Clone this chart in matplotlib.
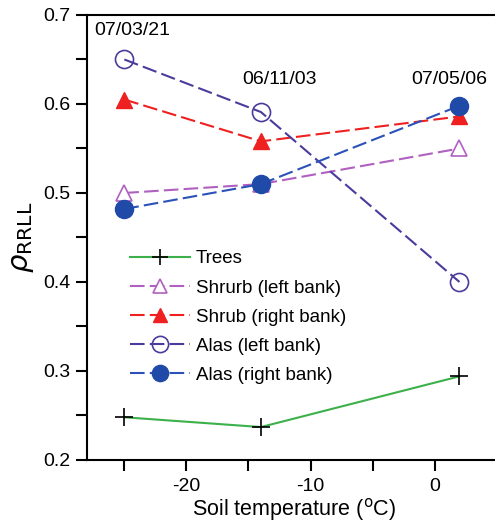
import numpy as np
import matplotlib.pyplot as plt
from matplotlib.ticker import MultipleLocator

plt.rcParams['font.family'] = ['Liberation Sans', 'DejaVu Sans']
plt.rcParams['axes.unicode_minus'] = False

# soil temperature of each survey date
temps = [-25, -14, 2]
dates = ['07/03/21', '06/11/03', '07/05/06']

trees = [0.248, 0.237, 0.294]
shrub_left = [0.500, 0.510, 0.550]
shrub_right = [0.605, 0.558, 0.586]
alas_left = [0.650, 0.591, 0.400]
alas_right = [0.482, 0.510, 0.598]

fig = plt.figure(figsize=(4.95, 5.26), dpi=100)
ax = fig.add_axes([0.176, 0.1255, 0.835, 0.846])

dash = (0, (7, 2.5))
ax.plot(temps, trees, color='#3cb04a', lw=1.5, marker='+', ms=13, mec='black',
        mew=1.2, label='Trees')
ax.plot(temps, shrub_left, color='#b060c0', lw=1.5, ls=dash, marker='^', ms=11,
        mfc='white', mec='#b060c0', mew=1.2, label='Shrurb (left bank)')
ax.plot(temps, shrub_right, color='#ee2020', lw=1.5, ls=dash, marker='^', ms=11,
        mfc='#ee2020', mec='#ee2020', label='Shrub (right bank)')
ax.plot(temps, alas_left, color='#4a3c9c', lw=1.5, ls=dash, marker='o', ms=13,
        mfc='none', mec='#4a3c9c', mew=1.2, label='Alas (left bank)')
ax.plot(temps, alas_right, color='#2a52b8', lw=1.5, ls=dash, marker='o', ms=13,
        mfc='#1f4aa8', mec='#1f4aa8', label='Alas (right bank)')

ax.text(-27.4, 0.683, dates[0], fontsize=14, va='center')
ax.text(-12.5, 0.627, dates[1], fontsize=14, ha='center', va='center')
ax.text(1.2, 0.627, dates[2], fontsize=14, ha='center', va='center')

ax.set_xlim(-28, 5.3)
ax.set_ylim(0.2, 0.7)
ax.xaxis.set_major_locator(MultipleLocator(10))
ax.xaxis.set_minor_locator(MultipleLocator(5))
ax.yaxis.set_major_locator(MultipleLocator(0.1))
ax.yaxis.set_minor_locator(MultipleLocator(0.05))
ax.set_xticks([-20, -10, 0])
ax.tick_params(which='both', direction='out', length=8, width=1.5, labelsize=14)
ax.tick_params(axis='x', pad=5)
ax.tick_params(axis='y', pad=4)
for s in ['left', 'bottom', 'top', 'right']:
    ax.spines[s].set_linewidth(1.5)

ax.set_xlabel('Soil temperature ($^{\\mathrm{o}}$C)', fontsize=15.5, labelpad=1)
ax.set_ylabel(r'$\rho_{\mathrm{RRLL}}$', fontsize=21, labelpad=5)

ax.legend(loc='upper left', bbox_to_anchor=(0.086, 0.488), frameon=False,
          fontsize=13.5, handlelength=3.2, labelspacing=0.64, handletextpad=0.3,
          borderaxespad=0, markerscale=0.9)

fig.savefig('out.png', dpi=100)
